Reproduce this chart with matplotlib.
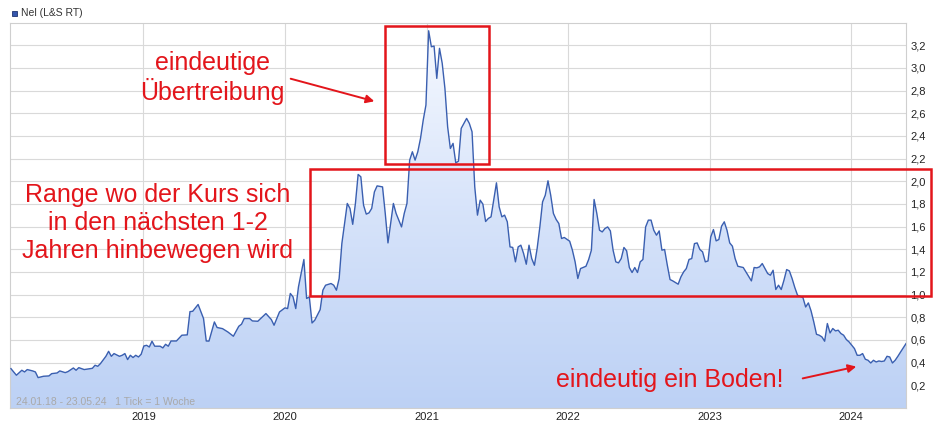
import numpy as np
import matplotlib
matplotlib.use("Agg")
import matplotlib.pyplot as plt
import matplotlib.dates as mdates
from matplotlib.patches import Rectangle, FancyArrowPatch
from matplotlib.colors import LinearSegmentedColormap

plt.rcParams['font.family'] = ['Liberation Sans', 'DejaVu Sans']

# ---------------- data ----------------
series_label = "Nel (L&S RT)"
start_date = "2018-01-24"          # first weekly tick
period_note = "24.01.18 - 23.05.24   1 Tick = 1 Woche"

# weeks since start date (1 tick = 1 week)
week_index = [
    0, 2, 4, 5, 6, 8, 9, 10, 12, 14,
    15, 17, 18, 20, 21, 23, 24, 25, 27, 30,
    31, 32, 33, 35, 36, 37, 38, 40, 41, 42,
    43, 44, 45, 46, 47, 48, 49, 50, 51, 52,
    53, 55, 56, 57, 58, 59, 61, 63, 65, 66,
    67, 69, 71, 72, 73, 75, 76, 78, 80, 82,
    84, 85, 86, 88, 89, 91, 94, 96, 97, 99,
    101, 102, 103, 104, 105, 106, 108, 109, 110, 111,
    112, 114, 115, 116, 118, 119, 120, 121, 122, 124,
    125, 126, 127, 128, 129, 130, 131, 132, 133, 134,
    135, 137, 138, 139, 141, 142, 144, 145, 146, 147,
    148, 149, 150, 151, 152, 153, 154, 155, 156, 157,
    158, 159, 160, 161, 162, 163, 164, 165, 166, 168,
    169, 170, 171, 172, 173, 174, 175, 176, 177, 179,
    180, 181, 182, 183, 184, 185, 186, 187, 188, 189,
    190, 191, 192, 193, 194, 195, 196, 197, 198, 199,
    200, 201, 202, 203, 204, 206, 207, 208, 209, 210,
    212, 213, 214, 215, 216, 217, 218, 219, 220, 221,
    222, 223, 224, 225, 226, 227, 228, 229, 230, 231,
    232, 233, 234, 235, 236, 237, 238, 239, 240, 241,
    242, 243, 244, 246, 247, 248, 249, 250, 251, 252,
    253, 254, 255, 256, 257, 258, 259, 260, 261, 262,
    263, 264, 265, 266, 267, 268, 270, 271, 272, 273,
    274, 275, 276, 277, 278, 279, 280, 281, 282, 283,
    284, 285, 286, 287, 288, 289, 290, 292, 293, 294,
    295, 296, 297, 298, 299, 300, 301, 302, 303, 304,
    305, 306, 307, 308, 309, 311, 312, 313, 314, 315,
    316, 317, 318, 319, 320, 321, 322, 323, 324, 325,
    326, 327, 328, 330,
]

price = [
    0.347, 0.289, 0.333, 0.318, 0.339, 0.327, 0.318, 0.268, 0.280, 0.283,
    0.303, 0.309, 0.327, 0.312, 0.321, 0.353, 0.333, 0.356, 0.339, 0.350,
    0.377, 0.368, 0.392, 0.456, 0.500, 0.456, 0.480, 0.456, 0.465, 0.480,
    0.427, 0.465, 0.445, 0.465, 0.450, 0.474, 0.547, 0.553, 0.538, 0.589,
    0.545, 0.545, 0.530, 0.562, 0.545, 0.591, 0.591, 0.642, 0.645, 0.850,
    0.853, 0.913, 0.789, 0.591, 0.590, 0.759, 0.710, 0.700, 0.670, 0.633,
    0.721, 0.739, 0.789, 0.789, 0.768, 0.765, 0.833, 0.780, 0.730, 0.847,
    0.883, 0.877, 1.010, 0.980, 0.877, 1.068, 1.310, 0.966, 0.980, 0.750,
    0.774, 0.868, 1.039, 1.083, 1.098, 1.083, 1.039, 1.142, 1.451, 1.804,
    1.760, 1.620, 1.804, 2.060, 2.039, 1.789, 1.710, 1.721, 1.760, 1.906,
    1.959, 1.950, 1.716, 1.456, 1.804, 1.716, 1.597, 1.716, 1.804, 2.186,
    2.260, 2.186, 2.260, 2.378, 2.539, 2.672, 3.327, 3.186, 3.192, 2.907,
    3.172, 3.040, 2.819, 2.480, 2.289, 2.334, 2.162, 2.177, 2.466, 2.554,
    2.510, 2.436, 1.950, 1.701, 1.833, 1.798, 1.645, 1.672, 1.686, 1.986,
    1.774, 1.686, 1.701, 1.642, 1.421, 1.416, 1.289, 1.421, 1.436, 1.363,
    1.268, 1.436, 1.318, 1.259, 1.407, 1.597, 1.818, 1.877, 2.004, 1.877,
    1.716, 1.663, 1.627, 1.495, 1.504, 1.471, 1.392, 1.289, 1.142, 1.230,
    1.250, 1.310, 1.392, 1.839, 1.716, 1.568, 1.553, 1.583, 1.597, 1.562,
    1.392, 1.289, 1.280, 1.318, 1.416, 1.386, 1.239, 1.195, 1.239, 1.195,
    1.289, 1.310, 1.597, 1.657, 1.657, 1.568, 1.524, 1.562, 1.392, 1.398,
    1.259, 1.133, 1.121, 1.092, 1.156, 1.200, 1.230, 1.310, 1.318, 1.450,
    1.456, 1.398, 1.377, 1.289, 1.297, 1.509, 1.574, 1.474, 1.486, 1.604,
    1.642, 1.568, 1.456, 1.427, 1.318, 1.250, 1.239, 1.200, 1.162, 1.121,
    1.239, 1.236, 1.245, 1.274, 1.230, 1.186, 1.171, 1.215, 1.045, 1.083,
    1.045, 1.127, 1.221, 1.209, 1.142, 1.063, 0.995, 0.974, 0.891, 0.927,
    0.856, 0.759, 0.650, 0.642, 0.627, 0.589, 0.745, 0.662, 0.701, 0.680,
    0.686, 0.657, 0.642, 0.604, 0.583, 0.524, 0.465, 0.465, 0.480, 0.430,
    0.421, 0.397, 0.421, 0.406, 0.415, 0.410, 0.415, 0.456, 0.450, 0.397,
    0.421, 0.456, 0.494, 0.568,
]

year_ticks = ["2019-01-01", "2020-01-01", "2021-01-01",
              "2022-01-01", "2023-01-01", "2024-01-01"]
year_labels = ["2019", "2020", "2021", "2022", "2023", "2024"]
y_ticks = [0.2, 0.4, 0.6, 0.8, 1.0, 1.2, 1.4, 1.6, 1.8, 2.0,
           2.2, 2.4, 2.6, 2.8, 3.0, 3.2]
y_tick_labels = ["0,2", "0,4", "0,6", "0,8", "1,0", "1,2", "1,4", "1,6",
                 "1,8", "2,0", "2,2", "2,4", "2,6", "2,8", "3,0", "3,2"]
y_max = 3.4

note_top = "eindeutige\nÜbertreibung"
note_range = "Range wo der Kurs sich\nin den nächsten 1-2\nJahren hinbewegen wird"
note_bottom = "eindeutig ein Boden!"

# ---------------- figure ----------------
W, H = 934, 429
fig = plt.figure(figsize=(W / 100, H / 100), dpi=100)
fig.patch.set_facecolor("white")

def fx(px):
    return px / W

def fy(py):
    return 1 - py / H

ax = fig.add_axes([fx(10), fy(408), (906 - 10) / W, (408 - 22.5) / H])

assert len(week_index) == len(price)
dates = np.datetime64(start_date) + np.array(week_index) * np.timedelta64(7, "D")
xd = mdates.date2num(dates)
price_arr = np.array(price)

x0 = xd[0] - 2.5
x1 = xd[-1]
ax.set_xlim(x0, x1)
ax.set_ylim(0, y_max)

# gradient area fill clipped to the area under the curve
poly = ax.fill_between(xd, price_arr, 0, facecolor="none", edgecolor="none")
cmap = LinearSegmentedColormap.from_list(
    "g", [(0.74, 0.82, 0.96), (0.84, 0.89, 0.98), (0.97, 0.98, 1.0)])
grad = np.linspace(0, 1, 256).reshape(-1, 1)
im = ax.imshow(grad, extent=[x0, x1, 0, y_max], origin="lower",
               aspect="auto", cmap=cmap, zorder=1)
im.set_clip_path(poly.get_paths()[0], transform=ax.transData)

ax.plot(xd, price_arr, color="#3a5fb0", lw=1.0, zorder=3)

# axes styling
ax.set_yticks(y_ticks)
ax.set_yticklabels(y_tick_labels)
ax.yaxis.tick_right()
ax.set_xticks(mdates.date2num(np.array(year_ticks, dtype="datetime64[D]")))
ax.set_xticklabels(year_labels)
ax.tick_params(axis="both", length=0, labelsize=8, colors="#222222")
ax.tick_params(axis="y", pad=3)
ax.tick_params(axis="x", pad=3)
ax.grid(True, color="#d9d9d9", lw=0.8, zorder=0)
ax.set_axisbelow(True)
for s in ax.spines.values():
    s.set_color("#cfcfcf")
    s.set_linewidth(0.8)

ax.text(fx(16) , fy(402), period_note, transform=fig.transFigure,
        fontsize=7.5, color="#a9a9a9", va="center", ha="left", zorder=5)

# legend (top-left)
fig.patches.append(Rectangle((fx(11.5), fy(16)), 5.5 / W, 5.5 / H,
                             transform=fig.transFigure, facecolor="#3557ad",
                             edgecolor="#1f3470", lw=0.6))
fig.text(fx(21), fy(13), series_label, fontsize=7.5, color="#333333",
         va="center", ha="left")

# annotations
red = "#e3151b"
fig.text(fx(212), fy(78), note_top, ha="center", va="center",
         fontsize=18, color=red, linespacing=1.12)
fig.text(fx(158), fy(223), note_range, ha="center", va="center",
         fontsize=18, color=red, linespacing=1.22)
fig.text(fx(670), fy(380), note_bottom, ha="center", va="center",
         fontsize=18, color=red)

for (l, t, r, b) in [(385, 25.5, 489, 164), (310, 169, 931, 296)]:
    fig.patches.append(Rectangle((fx(l), fy(b)), (r - l) / W, (b - t) / H,
                                 transform=fig.transFigure, fill=False,
                                 edgecolor=red, lw=1.8, zorder=10))

for (tx, ty, hx, hy) in [(288, 78, 377, 102), (800, 379, 859, 366)]:
    fig.patches.append(FancyArrowPatch((fx(tx), fy(ty)), (fx(hx), fy(hy)),
                                       transform=fig.transFigure,
                                       arrowstyle="-|>", mutation_scale=12,
                                       color=red, lw=1.4))

fig.savefig("out.png", dpi=100)
